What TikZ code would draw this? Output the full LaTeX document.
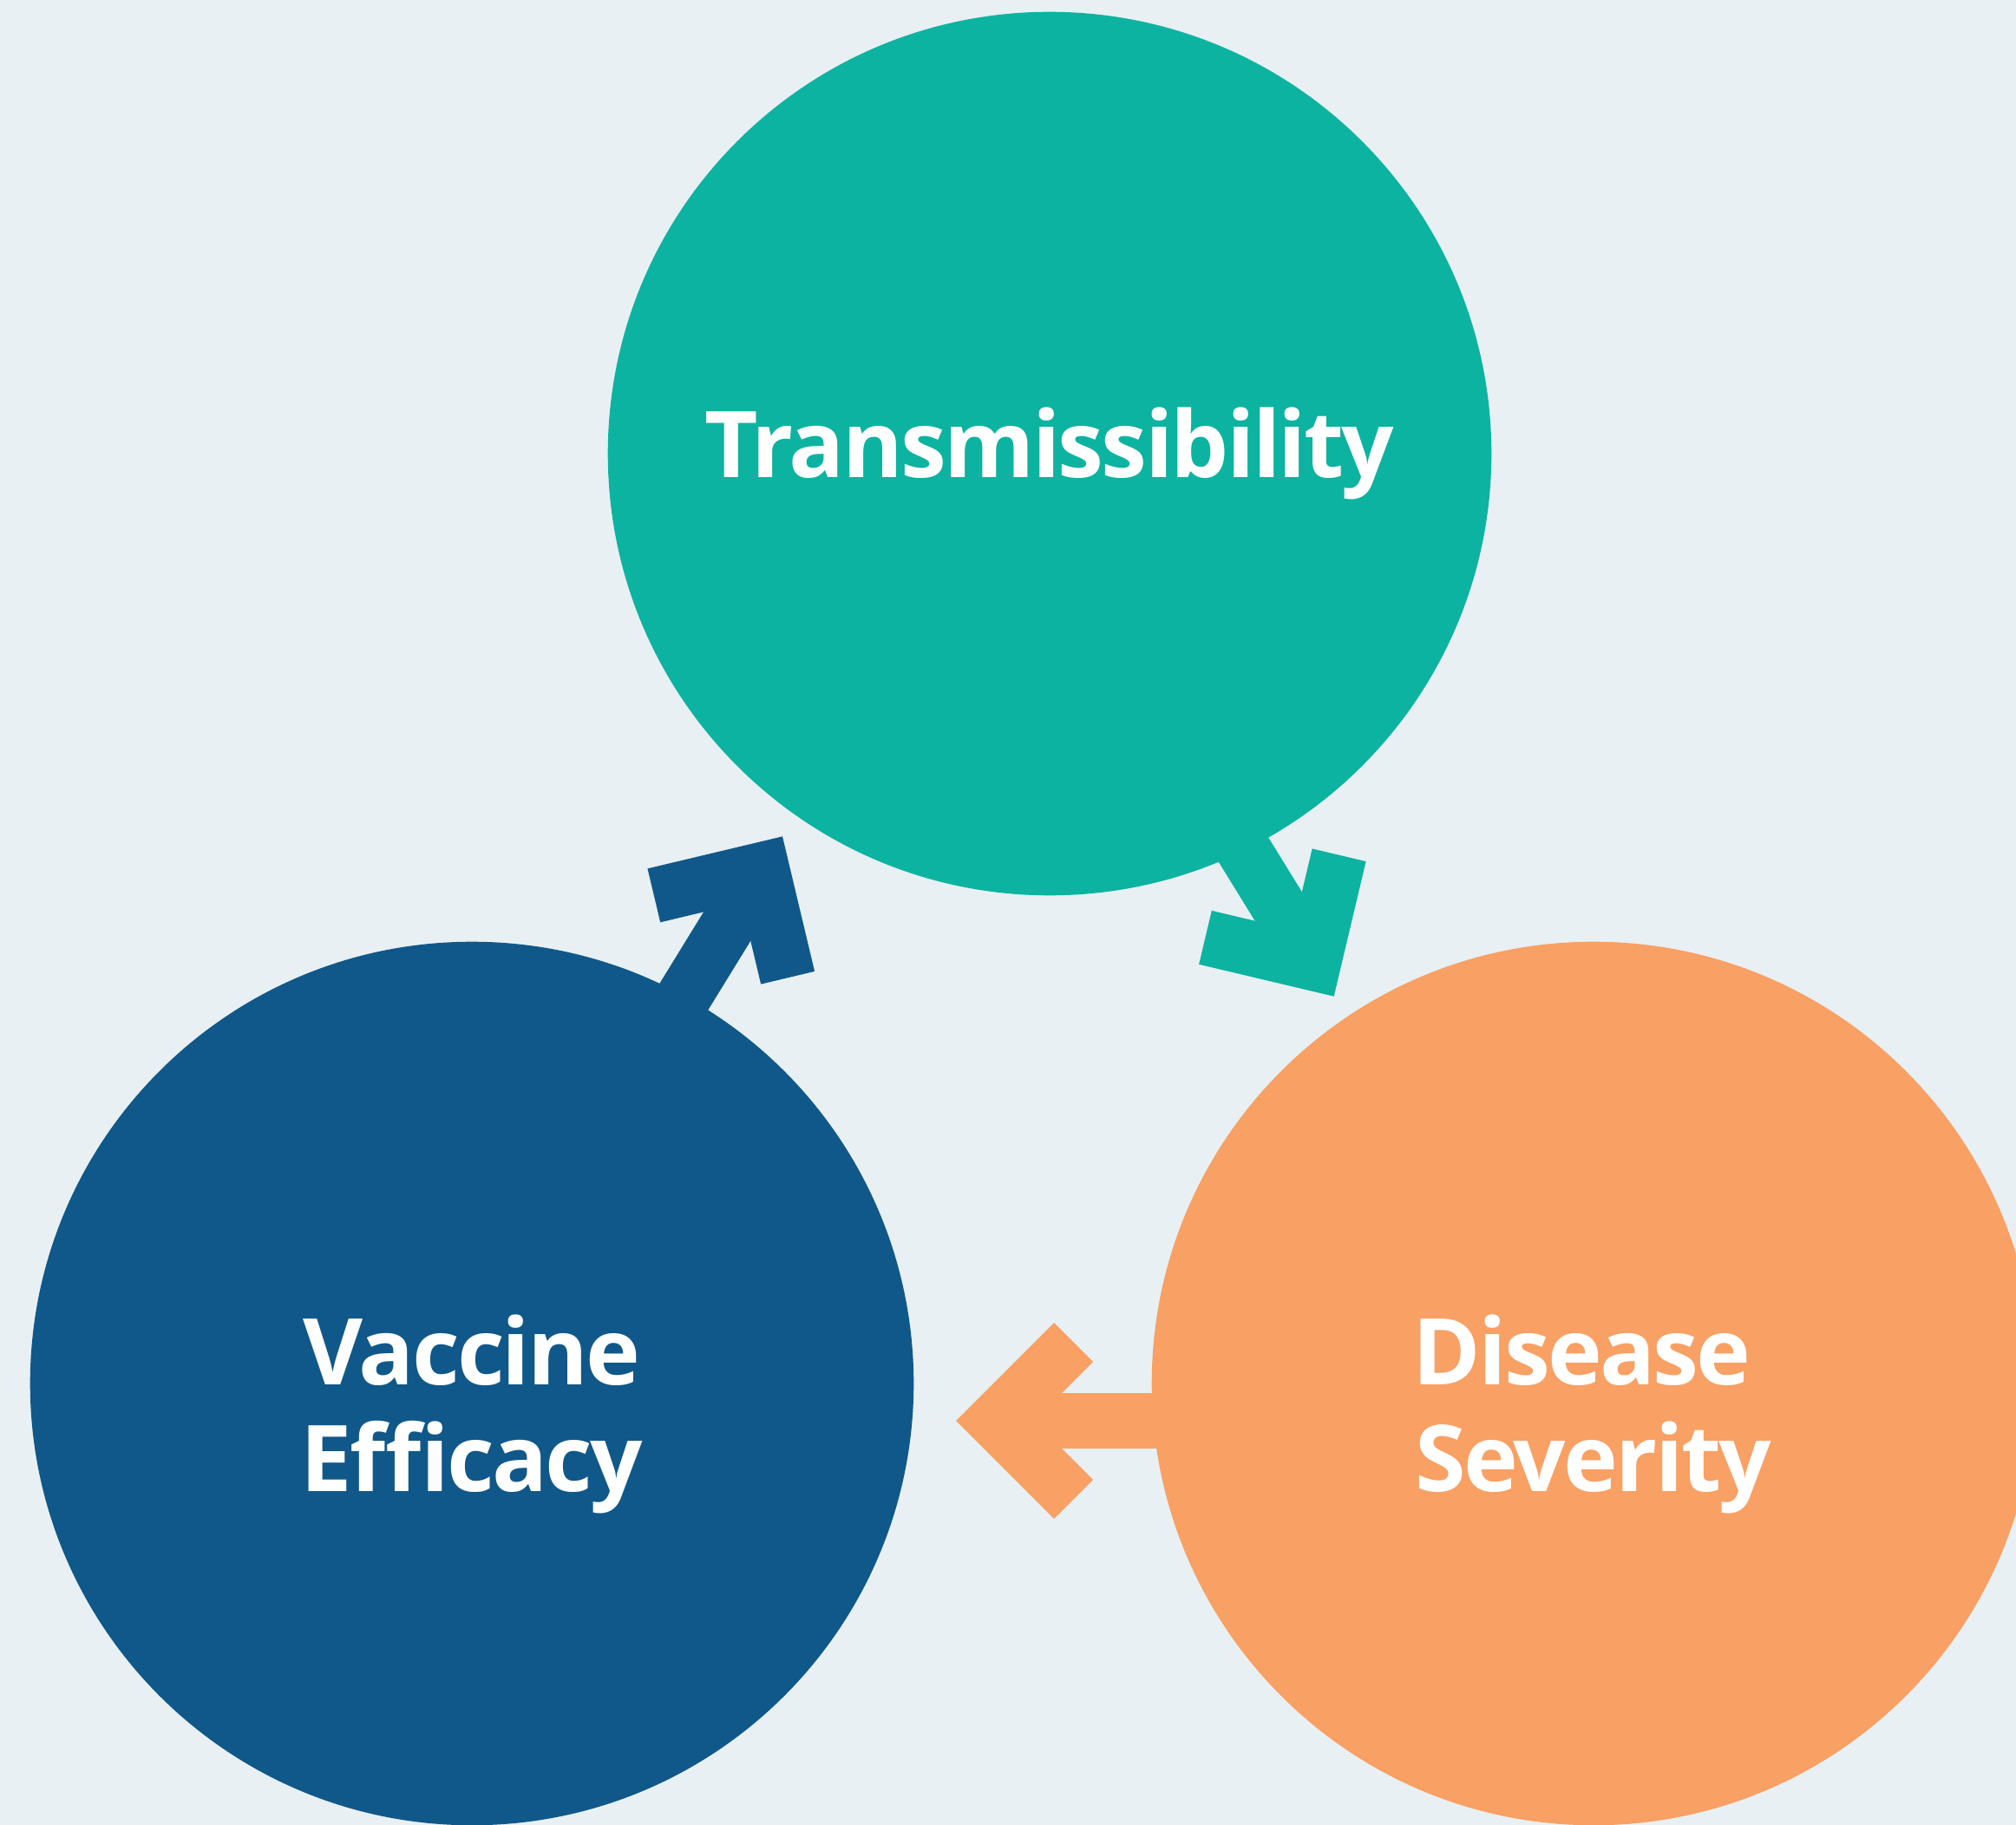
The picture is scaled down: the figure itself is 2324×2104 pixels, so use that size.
\documentclass[tikz,border=0pt]{standalone}
\usepackage{fontspec}
\setmainfont{Open Sans}
\newfontfamily\lblfont{Open Sans}[LetterSpace=-2.5]
\usetikzlibrary{calc}
\definecolor{bgc}{RGB}{232,240,243}
\definecolor{tealc}{RGB}{12,179,160}
\definecolor{bluec}{RGB}{16,88,137}
\definecolor{orangec}{RGB}{249,160,100}
\tikzset{
  bubble/.style={circle, minimum size=10.18cm, inner sep=0pt, draw=none},
  lbltext/.style={text=white, font=\lblfont\fontsize{30.2pt}{36pt}\bfseries\selectfont, anchor=base, inner sep=0pt},
  shaftline/.style={line width=0.636cm, line cap=butt},
  chevronline/.style={line width=0.636cm, line cap=butt, line join=miter, miter limit=10},
}
\newcommand\cyclearrow[3]{%
  \path ($(#2)!0.45cm!(#1)$) coordinate (#2apex);
  \path ($(#2apex)!1.28cm!45:(#1)$) coordinate (#2armA);
  \path ($(#2apex)!1.28cm!-45:(#1)$) coordinate (#2armB);
  \draw[shaftline, draw=#3] (#1) -- (#2apex);
  \draw[chevronline, draw=#3] (#2armA) -- (#2apex) -- (#2armB);
}
\begin{document}
\begin{tikzpicture}[x=0.01cm, y=-0.01cm]
  \useasboundingbox (0,0) rectangle (2324,2104);
  \clip (0,0) rectangle (2324,2104);
  \fill[bgc] (0,0) rectangle (2324,2104);
  % circles
  \node[bubble, fill=tealc] (trans) at (1210,523) {};
  \node[bubble, fill=bluec] (vacc) at (544,1595) {};
  \node[bubble, fill=orangec] (dis) at (1837,1595) {};
  % arrow end points
  \coordinate (tdstart) at (1406.5,935.9);
  \coordinate (tdtip) at (1537.7,1148.7);
  \coordinate (dvstart) at (1400,1638);
  \coordinate (dvtip) at (1102,1638);
  \coordinate (vtstart) at (771,1177.3);
  \coordinate (vttip) at (902,964.3);
  \cyclearrow{tdstart}{tdtip}{tealc}
  \cyclearrow{dvstart}{dvtip}{orangec}
  \cyclearrow{vtstart}{vttip}{bluec}
  % labels
  \node[lbltext] (transtxt) at (1210,551) {Transmissibility};
  \node[lbltext] (vacctxta) at (544,1596) {Vaccine};
  \node[lbltext] (vacctxtb) at (544,1719) {Efficacy};
  \node[lbltext] (distxta) at (1823.5,1596) {Disease};
  \node[lbltext] (distxtb) at (1836.5,1719) {Severity};
\end{tikzpicture}
\end{document}
